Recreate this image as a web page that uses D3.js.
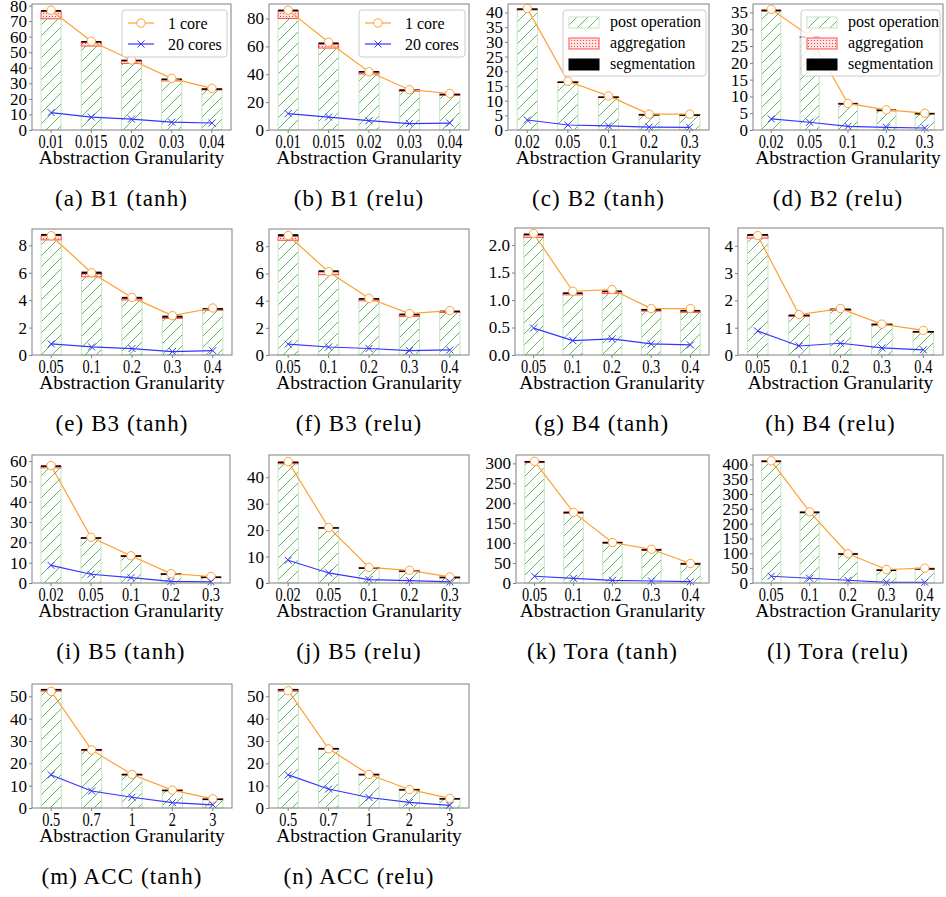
<!DOCTYPE html>
<html lang="en">
<head>
  <meta charset="UTF-8">
  <title>Abstraction Granularity runtime</title>
  <script src="https://d3js.org/d3.v7.min.js"></script>
  <style>
    body { margin: 0; background: #fff; }
    .tick text { font-family: "Liberation Serif", "Times New Roman", "DejaVu Serif", serif; fill: #000; }
  </style>
</head>
<body>
  <script>
    // x categories
    const granB1 = ["0.01", "0.015", "0.02", "0.03", "0.04"];
    const granB2 = ["0.02", "0.05", "0.1", "0.2", "0.3"];
    const granB3 = ["0.05", "0.1", "0.2", "0.3", "0.4"];
    const granAcc = ["0.5", "0.7", "1", "2", "3"];

    const captions = ["(a) B1 (tanh)", "(b) B1 (relu)", "(c) B2 (tanh)", "(d) B2 (relu)",
      "(e) B3 (tanh)", "(f) B3 (relu)", "(g) B4 (tanh)", "(h) B4 (relu)",
      "(i) B5 (tanh)", "(j) B5 (relu)", "(k) Tora (tanh)", "(l) Tora (relu)",
      "(m) ACC (tanh)", "(n) ACC (relu)"];
    const panelCats = [granB1, granB1, granB2, granB2, granB3, granB3, granB3, granB3,
      granB2, granB2, granB3, granB3, granAcc, granAcc];

    // stacked bar parts (one row per panel)
    const postOperation = [
      [71.5, 54.0, 42.8, 31.6, 25.8], [80.0, 58.8, 40.2, 27.9, 25.0],
      [40.9, 16.2, 11.1, 5.2, 5.1], [35.4, 27.6, 7.8, 5.9, 4.9],
      [8.40, 5.71, 4.02, 2.67, 3.27], [8.44, 5.91, 3.99, 2.83, 3.13],
      [2.14, 1.095, 1.12, 0.80, 0.776], [4.28, 1.41, 1.63, 1.09, 0.83],
      [56.7, 22.0, 13.2, 4.5, 3.0], [45.1, 20.8, 5.7, 4.5, 2.2],
      [302, 175, 100, 83, 48], [409, 237, 97.5, 43, 47.5],
      [52.3, 25.7, 14.8, 7.9, 4.0], [52.3, 26.2, 14.8, 8.2, 4.2]
    ];
    const aggregation = [
      [4.6, 2.3, 1.7, 0.9, 0.6], [5.2, 2.8, 1.4, 0.9, 0.7],
      [0.3, 0.2, 0.2, 0.15, 0.15], [0.3, 0.2, 0.15, 0.1, 0.1],
      [0.30, 0.22, 0.10, 0.07, 0.04], [0.30, 0.20, 0.10, 0.10, 0.05],
      [0.04, 0.025, 0.03, 0.02, 0.024], [0.09, 0.04, 0.04, 0.02, 0.03],
      [0.8, 0.3, 0.3, 0.15, 0.1], [0.6, 0.2, 0.15, 0.15, 0.1],
      [3, 3, 2.5, 1.6, 1.5], [3, 3, 2.2, 2.2, 2.3],
      [0.6, 0.4, 0.3, 0.15, 0.1], [0.6, 0.4, 0.3, 0.15, 0.1]
    ];
    const segmentation = [
      [1.0, 0.9, 0.7, 0.6, 0.4], [1.2, 1.2, 0.7, 0.3, 0.3],
      [0.2, 0.1, 0.1, 0.05, 0.05], [0.1, 0.1, 0.05, 0.05, 0.05],
      [0.13, 0.15, 0.12, 0.13, 0.12], [0.15, 0.12, 0.10, 0.12, 0.09],
      [0.03, 0.02, 0.024, 0.018, 0.02], [0.06, 0.03, 0.03, 0.04, 0.02],
      [0.4, 0.2, 0.1, 0.05, 0.05], [0.2, 0.1, 0.05, 0.05, 0.03],
      [0.8, 0.6, 0.4, 0.3, 0.2], [0.8, 0.6, 0.4, 0.3, 0.2],
      [0.4, 0.3, 0.2, 0.1, 0.1], [0.4, 0.3, 0.2, 0.1, 0.1]
    ];
    // line series
    const oneCore = [
      [77.0, 57.0, 45.0, 33.2, 26.8], [86.0, 63.0, 41.8, 28.9, 26.2],
      [41.4, 16.6, 11.6, 5.4, 5.4], [35.9, 28.0, 7.9, 6.0, 5.0],
      [8.70, 6.00, 4.20, 2.87, 3.43], [8.79, 6.13, 4.17, 3.05, 3.27],
      [2.21, 1.16, 1.19, 0.845, 0.845], [4.37, 1.48, 1.70, 1.13, 0.90],
      [57.8, 22.5, 13.4, 4.6, 3.2], [45.9, 21.0, 5.9, 4.8, 2.3],
      [305, 177, 101.5, 84.5, 49], [412, 240, 98.7, 45.5, 50],
      [52.2, 26.0, 15.0, 8.0, 4.1], [52.5, 26.5, 15.0, 8.3, 4.3]
    ];
    const twentyCores = [
      [11.2, 8.3, 7.0, 5.0, 4.5], [11.8, 9.3, 6.7, 4.6, 5.0],
      [3.4, 1.7, 1.4, 1.0, 0.9], [3.3, 2.3, 1.1, 0.8, 0.6],
      [0.81, 0.59, 0.47, 0.25, 0.32], [0.80, 0.59, 0.48, 0.32, 0.37],
      [0.49, 0.262, 0.294, 0.202, 0.183], [0.88, 0.33, 0.43, 0.26, 0.19],
      [8.7, 4.3, 2.6, 0.8, 0.6], [8.6, 3.8, 1.3, 0.9, 0.4],
      [16.9, 11.8, 6.8, 5.0, 3.3], [22.8, 16, 9.2, 2.3, 2.3],
      [14.8, 7.6, 4.8, 2.4, 1.4], [14.8, 8.5, 4.7, 2.5, 1.2]
    ];

    // y axis limits and ticks
    const yTop = [81, 90.4, 42.9, 37.5, 9.19, 9.27, 2.31, 4.65, 63, 48.4, 321, 431.6, 55.5, 55.5];
    const yStep = [10, 20, 5, 5, 2, 2, 0.5, 1, 10, 10, 50, 50, 10, 10];
    const yTickMax = [80, 80, 40, 35, 8, 8, 2, 4, 60, 40, 300, 400, 50, 50];

    // layout of each axes box
    const lefts = [32, 269, 508, 753, 32, 269, 515, 738, 32, 269, 516, 753, 32, 269];
    const rights = [231, 469, 709, 943, 232, 469, 709, 943, 230, 469, 709, 943, 232, 469];
    const tops = [4, 4, 4, 4, 229, 229, 228, 228, 455, 455, 455, 455, 684, 684];
    const bottoms = [130, 130, 130, 130, 355, 355, 355, 355, 583, 583, 583, 583, 808, 808];

    const orange = "#ffa033";
    const blue = "#3535ff";
    const green = "#4cae4c";
    const serif = "'Liberation Serif', 'Times New Roman', 'DejaVu Serif', serif";

    const svg = d3.select("body").append("svg")
      .attr("width", 946).attr("height", 897);

    const defs = svg.append("defs");
    const hatch = defs.append("pattern").attr("id", "hatch")
      .attr("patternUnits", "userSpaceOnUse").attr("width", 11).attr("height", 11);
    hatch.append("rect").attr("width", 11).attr("height", 11).attr("fill", "#fff");
    hatch.append("path").attr("d", "M-2,2 L2,-2 M0,11 L11,0 M9,13 L13,9")
      .attr("stroke", green).attr("stroke-width", 0.9);
    const dots = defs.append("pattern").attr("id", "dots")
      .attr("patternUnits", "userSpaceOnUse").attr("width", 3).attr("height", 3);
    dots.append("rect").attr("width", 3).attr("height", 3).attr("fill", "#ffe4e4");
    dots.append("circle").attr("cx", 1.5).attr("cy", 1.5).attr("r", 0.55).attr("fill", "#f22");

    function xMarker(g, cx, cy, s) {
      g.append("path")
        .attr("d", `M${cx - s},${cy - s}L${cx + s},${cy + s}M${cx - s},${cy + s}L${cx + s},${cy - s}`)
        .attr("stroke", blue).attr("stroke-width", 1);
    }

    function drawPanel(i) {
      const L = lefts[i], R = rights[i], T = tops[i], B = bottoms[i];
      const cats = panelCats[i];
      const g = svg.append("g");

      const x = d3.scaleBand().domain(d3.range(cats.length))
        .range([L, R]).paddingInner(0.5).paddingOuter(0.225);
      const y = d3.scaleLinear().domain([0, yTop[i]]).range([B, T]);

      const rows = cats.map((c, j) => {
        const p = postOperation[i][j], a = aggregation[i][j], s = segmentation[i][j];
        return { j, p, a, s };
      });

      // bars
      const bars = g.selectAll(".bar").data(rows).enter().append("g");
      bars.append("rect")
        .attr("x", d => x(d.j)).attr("width", x.bandwidth())
        .attr("y", d => y(d.p)).attr("height", d => y(0) - y(d.p))
        .attr("fill", "url(#hatch)").attr("stroke", "#c4e6c4").attr("stroke-width", 1);
      bars.append("rect")
        .attr("x", d => x(d.j)).attr("width", x.bandwidth())
        .attr("y", d => y(d.p + d.a)).attr("height", d => y(d.p) - y(d.p + d.a))
        .attr("fill", "url(#dots)").attr("stroke", "#ff5050").attr("stroke-width", 1);
      bars.append("rect")
        .attr("x", d => x(d.j)).attr("width", x.bandwidth())
        .attr("y", d => y(d.p + d.a + d.s)).attr("height", d => Math.max(1.5, y(d.p + d.a) - y(d.p + d.a + d.s)))
        .attr("fill", "#000");

      const cx = j => x(j) + x.bandwidth() / 2;

      // 1 core line
      const line1 = d3.line().x((d, j) => cx(j)).y(d => y(d));
      g.append("path").attr("d", line1(oneCore[i]))
        .attr("fill", "none").attr("stroke", orange).attr("stroke-width", 1.2);
      g.selectAll(".c1").data(oneCore[i]).enter().append("circle")
        .attr("cx", (d, j) => cx(j)).attr("cy", d => y(d)).attr("r", 4.2)
        .attr("fill", "#fff").attr("stroke", orange).attr("stroke-width", 1);

      // 20 cores line
      g.append("path").attr("d", line1(twentyCores[i]))
        .attr("fill", "none").attr("stroke", blue).attr("stroke-width", 1.2);
      twentyCores[i].forEach((d, j) => xMarker(g, cx(j), y(d), 3.5));

      // frame
      g.append("rect").attr("x", L).attr("y", T).attr("width", R - L).attr("height", B - T)
        .attr("fill", "none").attr("stroke", "#808080").attr("stroke-width", 1);

      // axes
      const ticks = d3.range(0, yTickMax[i] + yStep[i] / 2, yStep[i]);
      const fmt = yStep[i] < 1 ? d3.format(".1f") : d3.format("d");
      const ya = g.append("g").attr("transform", `translate(${L},0)`)
        .call(d3.axisLeft(y).tickValues(ticks).tickFormat(fmt).tickSize(3).tickPadding(2));
      ya.select(".domain").remove();
      ya.selectAll("line").attr("stroke", "#808080");
      ya.selectAll("text").attr("font-size", 17).attr("font-family", serif);

      const xa = g.append("g").attr("transform", `translate(0,${B})`)
        .call(d3.axisBottom(x).tickFormat(j => cats[j]).tickSize(3).tickPadding(2));
      xa.select(".domain").remove();
      xa.selectAll("line").attr("stroke", "#808080");
      // x tick labels are horizontally condensed in the original
      xa.selectAll("text").attr("font-size", 18).attr("font-family", serif)
        .attr("transform", "scale(0.8,1)");

      g.append("text").attr("x", (L + R) / 2).attr("y", B + 34)
        .attr("text-anchor", "middle").attr("font-family", serif).attr("font-size", 19.5)
        .text("Abstraction Granularity");

      g.append("text").attr("x", (L + R) / 2 - 10).attr("y", B + 76)
        .attr("text-anchor", "middle").attr("font-family", serif)
        .attr("font-size", 23).attr("letter-spacing", 1.1).text(captions[i]);

      return g;
    }

    for (let i = 0; i < captions.length; i++) {
      const g = drawPanel(i);
      const L = lefts[i], T = tops[i], R = rights[i];
      if (i < 2) {
        // line legend
        const lx = L + 90, ly = T + 6, lw = R - lx - 4;
        g.append("rect").attr("x", lx).attr("y", ly).attr("width", lw).attr("height", 47)
          .attr("rx", 3).attr("fill", "#fff").attr("fill-opacity", 0.8)
          .attr("stroke", "#ccc");
        const items = [["1 core", orange, "o"], ["20 cores", blue, "x"]];
        items.forEach(([label, col, mk], k) => {
          const yy = ly + 13 + k * 21;
          g.append("line").attr("x1", lx + 6).attr("x2", lx + 32).attr("y1", yy).attr("y2", yy)
            .attr("stroke", col).attr("stroke-width", 1.2);
          if (mk === "o") {
            g.append("circle").attr("cx", lx + 19).attr("cy", yy).attr("r", 4.2)
              .attr("fill", "#fff").attr("stroke", col);
          } else {
            xMarker(g, lx + 19, yy, 3.5);
          }
          g.append("text").attr("x", lx + 46).attr("y", yy + 5.5)
            .attr("font-family", serif).attr("font-size", 16).text(label);
        });
      } else if (i < 4) {
        // bar legend
        const lx = i === 2 ? L + 55 : L + 48, ly = T + 6, lw = R - lx - 3;
        g.append("rect").attr("x", lx).attr("y", ly).attr("width", lw).attr("height", 66)
          .attr("rx", 3).attr("fill", "#fff").attr("fill-opacity", 0.8)
          .attr("stroke", "#ccc");
        const items = [["post operation", "url(#hatch)", "#c4e6c4"],
          ["aggregation", "url(#dots)", "#ff5050"],
          ["segmentation", "#000", "#000"]];
        items.forEach(([label, fill, edge], k) => {
          const yy = ly + 12 + k * 21;
          g.append("rect").attr("x", lx + 6).attr("y", yy - 5).attr("width", 30).attr("height", 11)
            .attr("fill", fill).attr("stroke", edge);
          g.append("text").attr("x", lx + 47).attr("y", yy + 5)
            .attr("font-family", serif).attr("font-size", 16).text(label);
        });
      }
    }
  </script>
</body>
</html>
